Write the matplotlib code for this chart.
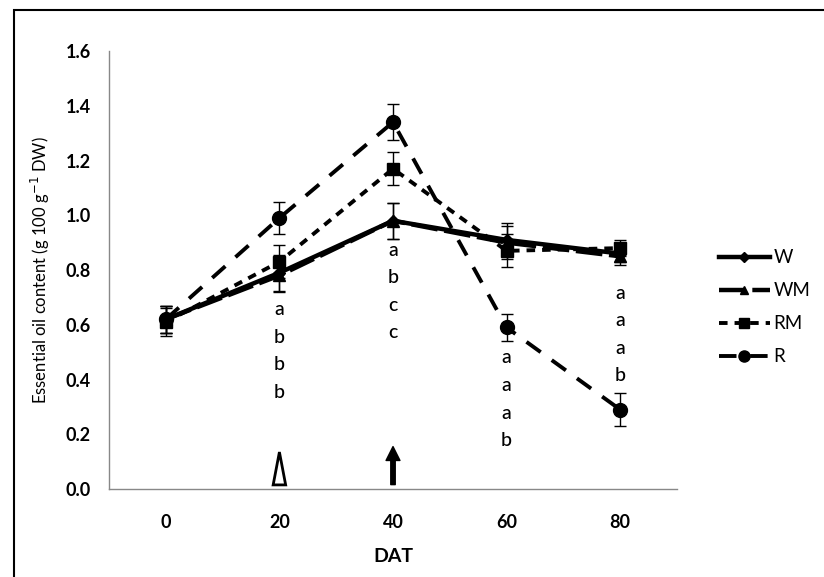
import matplotlib
matplotlib.use("Agg")
from matplotlib import pyplot as plt
from matplotlib.patches import Polygon, Rectangle
from matplotlib.lines import Line2D
from matplotlib.ticker import FormatStrFormatter

plt.rcParams['font.family'] = ['Lato', 'DejaVu Sans']

# data
dat = [0, 20, 40, 60, 80]
treatments = ["W", "WM", "RM", "R"]
w_vals = [0.62, 0.79, 0.98, 0.91, 0.86]
wm_vals = [0.62, 0.78, 0.98, 0.90, 0.85]
rm_vals = [0.61, 0.83, 1.17, 0.87, 0.88]
r_vals = [0.62, 0.99, 1.34, 0.59, 0.29]
w_err = [0.05, 0.065, 0.065, 0.06, 0.03]
wm_err = [0.05, 0.06, 0.065, 0.06, 0.03]
rm_err = [0.05, 0.06, 0.06, 0.06, 0.03]
r_err = [0.05, 0.06, 0.065, 0.05, 0.06]

# significance letters under each sampling date
letters = {20: ["a", "b", "b", "b"],
           40: ["a", "b", "c", "c"],
           60: ["a", "a", "a", "b"],
           80: ["a", "a", "a", "b"]}
letter_top = {20: 0.655, 40: 0.873, 60: 0.479, 80: 0.716}

fig = plt.figure(figsize=(8.24, 5.77), dpi=100)
ax = fig.add_axes([0.1323, 0.1525, 0.6893, 0.7591])

styles = [
    dict(ls="-", marker="D", ms=6, lw=3.2),
    dict(ls=(0, (6, 1.5)), marker="^", ms=8, lw=3.2),
    dict(ls=(0, (2.2, 1.8)), marker="s", ms=9, lw=2.8),
    dict(ls=(0, (4.5, 3.5)), marker="o", ms=10, lw=2.8),
]
series = [w_vals, wm_vals, rm_vals, r_vals]
errs = [w_err, wm_err, rm_err, r_err]

handles = []
for name, vals, err, st in zip(treatments, series, errs, styles):
    ax.errorbar(dat, vals, yerr=err, color="black", ecolor="black",
                elinewidth=1, capsize=4, capthick=1, **st)
    handles.append(Line2D([], [], color="black", label=name, **st))

for x, labs in letters.items():
    for i, lab in enumerate(labs):
        ax.text(x, letter_top[x] - i * 0.101, lab, ha="center", va="center",
                fontsize=14, fontweight="medium", color="black")

# open triangle at 20 DAT, solid arrow at 40 DAT
tri = Polygon([[18.9, 0.015], [21.1, 0.015], [20, 0.135]], closed=True,
              facecolor="white", edgecolor="black", lw=2)
ax.add_patch(tri)
ax.annotate("", xy=(40, 0.155), xytext=(40, 0.016),
            arrowprops=dict(width=3.2, headwidth=10, headlength=10,
                            facecolor="black", edgecolor="black"))

ax.set_xlim(-10, 90)
ax.set_ylim(0, 1.6)
ax.set_xticks(dat)
ax.set_yticks([0, 0.2, 0.4, 0.6, 0.8, 1.0, 1.2, 1.4, 1.6])
ax.yaxis.set_major_formatter(FormatStrFormatter("%.1f"))
ax.tick_params(axis="both", length=0, labelsize=13)
ax.tick_params(axis="y", pad=13)
ax.tick_params(axis="x", pad=18)
for lab in ax.get_xticklabels() + ax.get_yticklabels():
    lab.set_fontweight("bold")

for s in ["top", "right"]:
    ax.spines[s].set_visible(False)
for s in ["left", "bottom"]:
    ax.spines[s].set_color("#888888")
    ax.spines[s].set_linewidth(1)

ax.set_xlabel("DAT", fontsize=14, fontweight="bold", labelpad=12)
ax.set_ylabel("Essential oil content (g 100 g$^{-1}$ DW)", fontsize=12,
              labelpad=10)

ax.legend(handles=handles, loc="upper left", bbox_to_anchor=(0.852, 0.597),
          bbox_transform=fig.transFigure, frameon=False, fontsize=13.5,
          handlelength=2.7, labelspacing=0.85, handletextpad=0.2,
          markerscale=0.8)

# outer frame of the original figure
fig.patches.append(Rectangle((14 / 824, -0.05), 1.1, 1 - 10 / 577 + 0.05,
                             transform=fig.transFigure, fill=False,
                             edgecolor="black", lw=1.5))

fig.savefig("out.png", dpi=100)
